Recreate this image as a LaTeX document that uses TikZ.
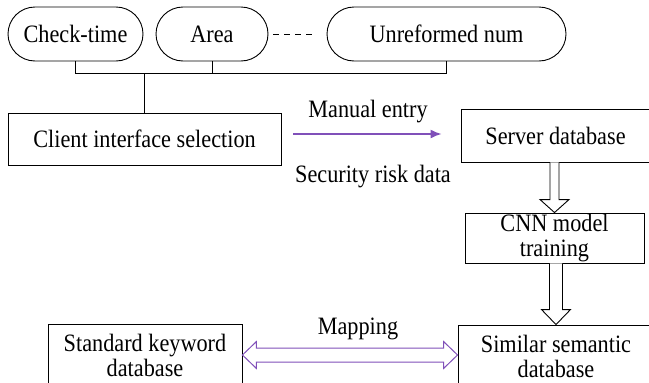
\documentclass[tikz,border=0pt]{standalone}
\usepackage{fontspec}
\setmainfont{Liberation Serif}[FakeStretch=0.89]
\usetikzlibrary{arrows.meta,calc}
\definecolor{purp}{RGB}{128,80,185}
\tikzset{
  base/.style={draw=black,line width=0.9pt,inner sep=0pt,align=center,font=\fontsize{25}{25}\selectfont},
  pill/.style={base,rounded corners=27pt,minimum height=54pt},
  box/.style={base,minimum height=52pt},
  lbl/.style={inner sep=0pt,font=\fontsize{25}{25}\selectfont},
  wire/.style={draw=black,line width=0.9pt},
  hollow/.style={draw=black,line width=0.9pt,fill=white,line join=miter},
  dbl/.style={draw=purp,line width=1pt,fill=white,line join=miter},
  parrow/.style={draw=purp,line width=1.5pt,-{Latex[length=11pt,width=9pt]}}
}
\begin{document}
\begin{tikzpicture}[x=1pt,y=-1pt]
\useasboundingbox (0,0) rectangle (649,383);
\clip (0,0) rectangle (649,383);
% top pills
\node[pill,minimum width=135pt] (ct) at (75.5,34) {Check-time};
\node[pill,minimum width=112pt] (ar) at (212,34) {Area};
\node[pill,minimum width=239pt] (un) at (446.5,34) {Unreformed num};
\draw[wire,dash pattern=on 6pt off 5pt,shorten <=5pt,shorten >=14pt] (ar.east) -- (un.west);
% boxes
\node[box,minimum width=273pt] (cli) at (144.5,139) {Client interface selection};
\node[box,minimum width=189pt,minimum height=53pt] (srv) at (555.5,135.5) {Server database};
\node[box,minimum width=179pt,minimum height=50pt] (cnn) at (554.5,238) {CNN model\\training};
\node[box,minimum width=196pt,minimum height=62pt] (sim) at (556,356) {Similar semantic\\database};
\node[box,minimum width=194pt,minimum height=62pt] (std) at (145,355) {Standard keyword\\database};
% labels
\node[lbl] (me) at (368,112) {Manual entry};
\node[lbl] (sr) at (373,177) {Security risk data};
\node[lbl] (mp) at (358,329) {Mapping};
% bus
\coordinate (busy) at (0,73);
\draw[wire] (ct.south) -- (ct.south |- busy) -- (un.south |- busy) -- (un.south);
\draw[wire] (ar.south) -- (ar.south |- busy);
\draw[wire] (cli.north |- busy) -- (cli.north);
% manual entry arrow
\coordinate (ma) at ([yshift=5pt]cli.east);
\draw[parrow,shorten <=12pt,shorten >=19pt] (ma) -- (ma -| srv.west);
% hollow arrow server -> cnn
\coordinate (a1) at (srv.south -| cnn.north);
\coordinate (t1) at (cnn.north);
\draw[hollow] ($(a1)+(-4.5,0)$) -- ($(t1)+(-4.5,-13)$) -- ($(t1)+(-14.5,-13)$) -- (t1)
  -- ($(t1)+(14.5,-13)$) -- ($(t1)+(4.5,-13)$) -- ($(a1)+(4.5,0)$);
% hollow arrow cnn -> similar
\coordinate (a2) at (cnn.south -| sim.north);
\coordinate (t2) at (sim.north);
\draw[hollow] ($(a2)+(-6.5,0)$) -- ($(t2)+(-6.5,-15)$) -- ($(t2)+(-14.5,-15)$) -- (t2)
  -- ($(t2)+(14.5,-15)$) -- ($(t2)+(6.5,-15)$) -- ($(a2)+(6.5,0)$);
% double arrow mapping
\coordinate (L) at (std.east);
\coordinate (R) at (L -| sim.west);
\draw[dbl] (L) -- ($(L)+(14,-13.5)$) -- ($(L)+(14,-7)$) -- ($(R)+(-14,-7)$) -- ($(R)+(-14,-13.5)$)
  -- (R) -- ($(R)+(-14,13.5)$) -- ($(R)+(-14,7)$) -- ($(L)+(14,7)$) -- ($(L)+(14,13.5)$) -- cycle;
\end{tikzpicture}
\end{document}
